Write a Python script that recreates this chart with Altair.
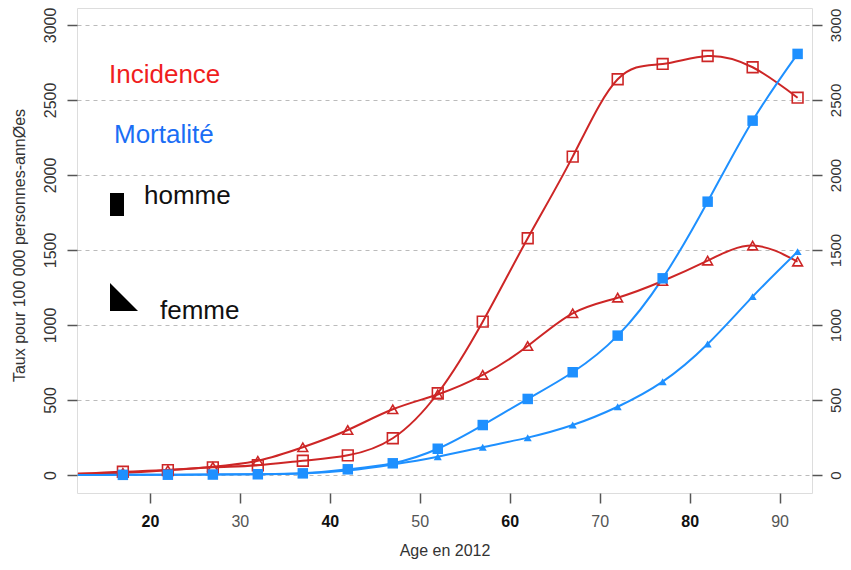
import altair as alt
import pandas as pd

# ---- data ----
ages = [17, 22, 27, 32, 37, 42, 47, 52, 57, 62, 67, 72, 77, 82, 87, 92]
incidence_homme = [22, 33, 51, 65, 95, 131, 245, 545, 1022, 1578, 2122, 2638, 2740, 2793, 2718, 2515]
incidence_femme = [15, 33, 55, 95, 185, 300, 438, 537, 667, 860, 1078, 1182, 1293, 1429, 1529, 1422]
mortalite_homme = [1, 2, 3, 5, 11, 38, 78, 175, 333, 507, 685, 929, 1311, 1822, 2362, 2807]
mortalite_femme = [1, 2, 3, 5, 10, 30, 70, 122, 185, 249, 333, 455, 622, 873, 1189, 1489]
# where the fitted curves meet the left frame (age ~12)
edge_age = 12
edge_incidence = 8
edge_mortalite = 0

series_names = ["inc_h", "inc_f", "mort_h", "mort_f"]
x_ticks = [20, 30, 40, 50, 60, 70, 80, 90]
y_ticks = [0, 500, 1000, 1500, 2000, 2500, 3000]
legend_words = ["Incidence", "Mortalité", "homme", "femme"]

RED = "#CD2626"
BLUE = "#1E90FF"

rows = []
for name, vals in zip(series_names, [incidence_homme, incidence_femme, mortalite_homme, mortalite_femme]):
    for a, v in zip(ages, vals):
        rows.append({"series": name, "age": a, "value": v})
pts = pd.DataFrame(rows)

line_rows = list(rows)
line_rows += [
    {"series": "inc_h", "age": edge_age, "value": edge_incidence},
    {"series": "inc_f", "age": edge_age, "value": edge_incidence},
    {"series": "mort_h", "age": edge_age, "value": edge_mortalite},
    {"series": "mort_f", "age": edge_age, "value": edge_mortalite},
]
lines_df = pd.DataFrame(line_rows)

FONT = "Liberation Sans"

xscale = alt.Scale(domain=[11.9, 93.6], nice=False, zero=False)
yscale = alt.Scale(domain=[-120, 3113], nice=False, zero=False)

x_axis = alt.Axis(
    values=x_ticks, title="Age en 2012", grid=False, domain=False,
    tickSize=10, tickColor="#555", tickWidth=1.5,
    labelFontSize=16, labelPadding=10, labelFont=FONT,
    labelFontWeight={"condition": {"test": "datum.value % 20 === 0", "value": "bold"}, "value": "normal"},
    labelColor={"condition": {"test": "datum.value % 20 === 0", "value": "#111"}, "value": "#555"},
    titleFontSize=16, titleFontWeight="normal", titleColor="#333", titleFont=FONT, titlePadding=13,
)
y_axis_left = alt.Axis(
    values=y_ticks, format="d", title="Taux pour 100 000 personnes-annØes", grid=True, domain=False,
    gridColor="#bbbbbb", gridDash=[4, 4], gridWidth=1,
    tickSize=10, tickColor="#555", tickWidth=1.5,
    labelAngle=270, labelAlign="center", labelBaseline="bottom", labelPadding=9,
    labelFontSize=16, labelColor="#333", labelFont=FONT,
    titleFontSize=16, titleFontWeight="normal", titleColor="#333", titleFont=FONT,
    titleX=-50, titleY=237,
)
y_axis_right = alt.Axis(
    values=y_ticks, format="d", title=None, orient="right", grid=False, domain=False,
    tickSize=10, tickColor="#555", tickWidth=1.5,
    labelAngle=270, labelAlign="center", labelBaseline="top", labelPadding=6,
    labelFontSize=15, labelColor="#333", labelFont=FONT,
)

X = alt.X("age:Q", scale=xscale, axis=x_axis)
Y = alt.Y("value:Q", scale=yscale, axis=y_axis_left)

lines = alt.Chart(lines_df).mark_line(interpolate="natural", strokeWidth=2).encode(
    x=X, y=Y,
    color=alt.Color("series:N", scale=alt.Scale(domain=series_names, range=[RED, RED, BLUE, BLUE]), legend=None),
    order="age:Q",
)

def pts_layer(name, **mk):
    return alt.Chart(pts).transform_filter(alt.datum.series == name).mark_point(**mk).encode(x=X, y=Y)

p_inc_h = pts_layer("inc_h", shape="square", filled=False, size=115, strokeWidth=1.6, color=RED, opacity=1)
p_inc_f = pts_layer("inc_f", shape="triangle-up", filled=False, size=95, strokeWidth=1.6, color=RED, opacity=1)
p_mort_h = pts_layer("mort_h", shape="square", filled=True, size=110, color=BLUE, opacity=1)
p_mort_f = pts_layer("mort_f", shape="triangle-up", filled=True, size=65, color=BLUE, opacity=1)

one = pd.DataFrame({"k": [0]})
txt_inc = alt.Chart(one).mark_text(text=legend_words[0], font=FONT, fontSize=26, color="#F01E1E",
                                   align="left", baseline="alphabetic").encode(x=alt.value(32), y=alt.value(75))
txt_mort = alt.Chart(one).mark_text(text=legend_words[1], font=FONT, fontSize=26, color="#1A6EF5",
                                    align="left", baseline="alphabetic").encode(x=alt.value(37), y=alt.value(135))
txt_h = alt.Chart(one).mark_text(text=legend_words[2], font=FONT, fontSize=26, color="#111",
                                 align="left", baseline="alphabetic").encode(x=alt.value(67), y=alt.value(196))
txt_f = alt.Chart(one).mark_text(text=legend_words[3], font=FONT, fontSize=26, color="#111",
                                 align="left", baseline="alphabetic").encode(x=alt.value(83), y=alt.value(311))
rect_h = alt.Chart(one).mark_rect(color="black").encode(
    x=alt.value(33), x2=alt.value(47), y=alt.value(185), y2=alt.value(208))
tri_f = alt.Chart(one).mark_point(shape="M -1 -1 L -1 1 L 1 1 Z", filled=True, size=784,
                                  color="black", opacity=1, strokeWidth=0).encode(
    x=alt.value(47), y=alt.value(289))

inner = alt.layer(lines, p_inc_f, p_inc_h, p_mort_f, p_mort_h,
                  txt_inc, txt_mort, txt_h, txt_f, rect_h, tri_f)

right = alt.Chart(pts).mark_point(opacity=0).encode(
    x=X, y=alt.Y("value:Q", scale=yscale, axis=y_axis_right))

chart = alt.layer(inner, right).resolve_axis(y="independent").properties(
    width=735, height=485,
    autosize=alt.AutoSizeParams(type="none"),
    padding={"left": 69, "top": 0, "right": 31, "bottom": 69},
).configure_view(stroke="#333", strokeWidth=1.5).configure(background="white")

chart.save("out.html", embed_options={"renderer": "svg", "actions": False})
